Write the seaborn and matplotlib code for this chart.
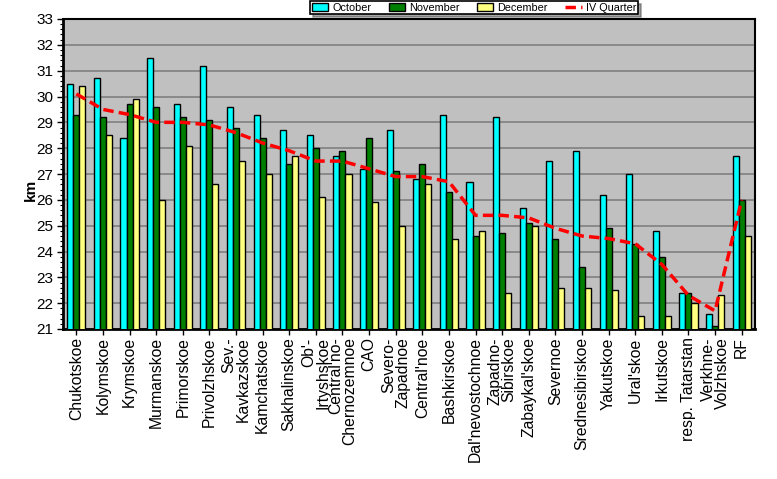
import matplotlib
matplotlib.use("Agg")
import matplotlib.pyplot as plt
from matplotlib.ticker import MultipleLocator
import seaborn as sns
import pandas as pd

regions = ["Chukotskoe", "Kolymskoe", "Krymskoe", "Murmanskoe", "Primorskoe",
           "Privolzhskoe", "Sev.-\nKavkazskoe", "Kamchatskoe", "Sakhalinskoe",
           "Ob'-\nIrtyshskoe", "Central'no-\nChernozemnoe", "CAO", "Severo-\nZapadnoe",
           "Central'noe", "Bashkirskoe", "Dal'nevostochnoe", "Zapadno-\nSibirskoe",
           "Zabaykal'skoe", "Severnoe", "Srednesibirskoe", "Yakutskoe", "Ural'skoe",
           "Irkutskoe", "resp. Tatarstan", "Verkhne-\nVolzhskoe", "RF"]
october = [30.5, 30.7, 28.4, 31.5, 29.7, 31.2, 29.6, 29.3, 28.7, 28.5, 27.7, 27.2, 28.7,
           26.8, 29.3, 26.7, 29.2, 25.7, 27.5, 27.9, 26.2, 27.0, 24.8, 22.4, 21.6, 27.7]
november = [29.3, 29.2, 29.7, 29.6, 29.2, 29.1, 28.8, 28.4, 27.4, 28.0, 27.9, 28.4, 27.1,
            27.4, 26.3, 24.6, 24.7, 25.1, 24.5, 23.4, 24.9, 24.3, 23.8, 22.4, 21.1, 26.0]
december = [30.4, 28.5, 29.9, 26.0, 28.1, 26.6, 27.5, 27.0, 27.7, 26.1, 27.0, 25.9, 25.0,
            26.6, 24.5, 24.8, 22.4, 25.0, 22.6, 22.6, 22.5, 21.5, 21.5, 22.0, 22.3, 24.6]
quarter = [30.1, 29.5, 29.3, 29.0, 29.0, 28.9, 28.6, 28.2, 27.9, 27.5, 27.5, 27.2, 26.9,
           26.9, 26.7, 25.4, 25.4, 25.3, 24.9, 24.6, 24.5, 24.3, 23.5, 22.3, 21.7, 26.0]

months = ["October", "November", "December"]
df = pd.DataFrame({
    "region": regions * 3,
    "month": [m for m in months for _ in regions],
    "km": october + november + december,
})
dq = pd.DataFrame({"region": regions, "km": quarter, "series": "IV Quarter"})

sns.set_theme(style="white")
plt.rcParams["font.family"] = ["Liberation Sans", "DejaVu Sans"]

fig = plt.figure(figsize=(7.77, 4.79), dpi=100)
ax = fig.add_axes([63 / 777, 1 - 329 / 479, (755 - 63) / 777, (329 - 19) / 479])
ax.set_facecolor("#C0C0C0")

palette = {"October": "#00FFFF", "November": "#008000", "December": "#FFFF80"}
sns.barplot(data=df, x="region", y="km", hue="month", palette=palette, order=regions,
            hue_order=months, width=0.68, edgecolor="black", linewidth=1.0,
            saturation=1, ax=ax, zorder=3, legend=True)
sns.lineplot(data=dq, x="region", y="km", color="#FF0000", lw=2.5, ls=(0, (3, 1.5)),
             sort=False, ax=ax, zorder=4, label="IV Quarter")

ax.set_ylim(21, 33)
ax.set_xlim(-0.5, len(regions) - 0.5)
ax.yaxis.set_major_locator(MultipleLocator(1))
ax.yaxis.set_minor_locator(MultipleLocator(0.2))
ax.grid(axis="y", color="#808080", lw=1.2, zorder=0)
ax.set_axisbelow(True)
for s in ax.spines.values():
    s.set_color("black")
    s.set_linewidth(1.5)
ax.spines["left"].set_linewidth(2)
ax.spines["bottom"].set_linewidth(2)

ax.tick_params(axis="y", which="major", left=True, length=4, width=1, direction="out",
               labelsize=11, colors="black", pad=3)
ax.tick_params(axis="y", which="minor", left=True, length=2, width=0.8, direction="out",
               colors="black")
ax.tick_params(axis="x", bottom=True, length=4, width=1, direction="out",
               labelsize=11.3, colors="black", pad=2)
ax.set_xticks(range(len(regions)))
ax.set_xticklabels(regions, rotation=90, va="top", ha="center")
for t in ax.get_xticklabels():
    t.set_multialignment("right")
    t.set_linespacing(0.9)

ax.set_xlabel("")
ax.set_ylabel("km", fontsize=11, fontweight="bold", color="black")
ax.yaxis.set_label_coords(-0.036, 0.45)

handles, labels = ax.get_legend_handles_labels()
ax.get_legend().remove()
leg = fig.legend(handles, labels, loc="upper center", bbox_to_anchor=(474 / 777, 1.0),
                 ncol=4, fontsize=7.8, frameon=True, fancybox=False, shadow=True,
                 edgecolor="black", borderpad=0.15, handlelength=1.5, handleheight=0.8,
                 columnspacing=1.6, handletextpad=0.4, borderaxespad=0.1)
leg.get_frame().set_linewidth(1.2)
for txt in leg.get_texts():
    txt.set_color("black")

fig.savefig("out.png", dpi=100, facecolor="white")
